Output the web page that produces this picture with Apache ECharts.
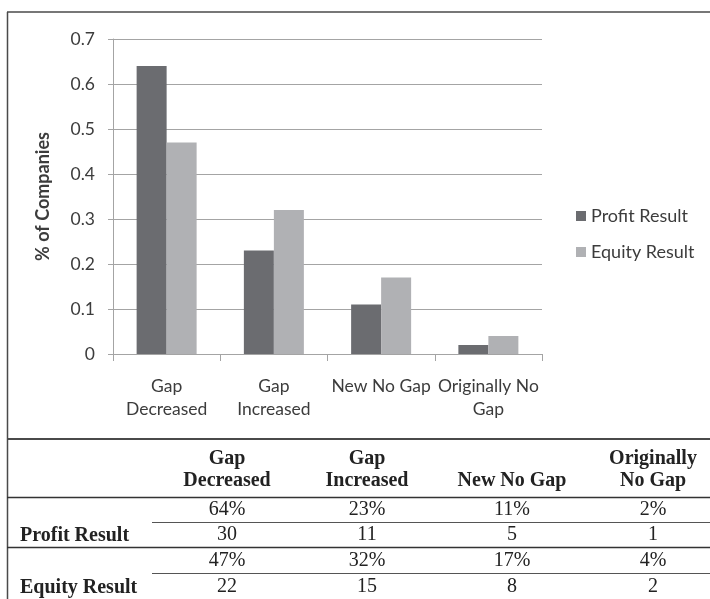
<!DOCTYPE html>
<html>
<head>
<meta charset="utf-8">
<script src="https://cdn.jsdelivr.net/npm/echarts@6/dist/echarts.min.js"></script>
<style>
  html, body { margin: 0; padding: 0; background: #fff; }
  #chart { width: 710px; height: 599px; }
</style>
</head>
<body>
<div id="chart"></div>
<script>
// Outcome categories (chart labels and table headers)
const categories = ['Gap\nDecreased', 'Gap\nIncreased', 'New No Gap', 'Originally No\nGap'];
const tableHeaders = ['Gap\nDecreased', 'Gap\nIncreased', 'New No Gap', 'Originally\nNo Gap'];
const seriesNames = ['Profit Result', 'Equity Result'];

// Share of companies per outcome
const profitShare = [0.64, 0.23, 0.11, 0.02];
const equityShare = [0.47, 0.32, 0.17, 0.04];

// Number of companies per outcome
const profitCounts = [30, 11, 5, 1];
const equityCounts = [22, 15, 8, 2];

// Y axis ticks
const yMin = 0, yMax = 0.7, yStep = 0.1;

const sans = 'Lato, "Open Sans", sans-serif';
const serif = '"Liberation Serif", "DejaVu Serif", serif';
const textGrey = '#3c3c3c';
const axisGrey = '#a4a4a4';
const darkBar = '#6b6c70';
const lightBar = '#b0b1b4';

const chart = echarts.init(document.getElementById('chart'), null, { renderer: 'canvas' });

// Table laid out under the chart
const colX = [227, 367, 512, 653];
const rowLabelX = 20;
const graphic = [];

// frame around the chart and table rules
const frame = '#4a4a4a';
graphic.push({ type: 'line', shape: { x1: 7, y1: 12, x2: 710, y2: 12 }, style: { stroke: '#777', lineWidth: 2 } });
graphic.push({ type: 'line', shape: { x1: 7.5, y1: 12, x2: 7.5, y2: 599 }, style: { stroke: frame, lineWidth: 1.5 } });
graphic.push({ type: 'line', shape: { x1: 7, y1: 439, x2: 710, y2: 439 }, style: { stroke: frame, lineWidth: 2 } });
graphic.push({ type: 'line', shape: { x1: 7, y1: 497.5, x2: 710, y2: 497.5 }, style: { stroke: '#333', lineWidth: 1.5 } });
graphic.push({ type: 'line', shape: { x1: 152, y1: 522.5, x2: 710, y2: 522.5 }, style: { stroke: '#555', lineWidth: 1 } });
graphic.push({ type: 'line', shape: { x1: 7, y1: 547.5, x2: 710, y2: 547.5 }, style: { stroke: '#333', lineWidth: 1.5 } });
graphic.push({ type: 'line', shape: { x1: 152, y1: 573.5, x2: 710, y2: 573.5 }, style: { stroke: '#555', lineWidth: 1 } });

// header row
tableHeaders.forEach((h, i) => {
  graphic.push({
    type: 'text', x: colX[i], y: 492,
    style: { text: h, font: 'bold 20px ' + serif, fill: '#222', align: 'center', verticalAlign: 'bottom', lineHeight: 22 }
  });
});

// body rows: percentage line then count line for each series
const rows = [
  { name: seriesNames[0], share: profitShare, counts: profitCounts, pctY: 510, cntY: 535 },
  { name: seriesNames[1], share: equityShare, counts: equityCounts, pctY: 561, cntY: 587 }
];
rows.forEach(r => {
  graphic.push({
    type: 'text', x: rowLabelX, y: r.cntY + 1,
    style: { text: r.name, font: 'bold 20px ' + serif, fill: '#222', align: 'left', verticalAlign: 'middle' }
  });
  r.share.forEach((v, i) => {
    graphic.push({
      type: 'text', x: colX[i], y: r.pctY,
      style: { text: Math.round(v * 100) + '%', font: '20px ' + serif, fill: '#222', align: 'center', verticalAlign: 'middle' }
    });
    graphic.push({
      type: 'text', x: colX[i], y: r.cntY,
      style: { text: String(r.counts[i]), font: '20px ' + serif, fill: '#222', align: 'center', verticalAlign: 'middle' }
    });
  });
});

chart.setOption({
  backgroundColor: '#fff',
  animation: false,
  grid: { left: 113, top: 39, right: 168, bottom: 245, containLabel: false },
  legend: {
    orient: 'vertical',
    left: 571, top: 201,
    itemWidth: 10, itemHeight: 10, itemGap: 16,
    icon: 'rect',
    textStyle: { fontFamily: sans, fontSize: 18, color: textGrey, lineHeight: 20 },
    data: seriesNames
  },
  xAxis: {
    type: 'category',
    data: categories,
    axisLine: { lineStyle: { color: axisGrey, width: 1 } },
    axisTick: { show: true, length: 7, lineStyle: { color: axisGrey } },
    axisLabel: { fontFamily: sans, fontSize: 17.5, color: textGrey, lineHeight: 23, margin: 21, interval: 0 }
  },
  yAxis: {
    type: 'value',
    min: yMin, max: yMax, interval: yStep,
    name: '% of Companies',
    nameLocation: 'middle',
    nameGap: 61,
    nameRotate: 90,
    nameTextStyle: { fontFamily: sans, fontSize: 18, fontWeight: 'bold', color: textGrey },
    axisLine: { show: true, lineStyle: { color: axisGrey, width: 1 } },
    axisTick: { show: true, length: 5, lineStyle: { color: axisGrey } },
    splitLine: { lineStyle: { color: axisGrey, width: 1 } },
    axisLabel: { fontFamily: sans, fontSize: 17.5, color: textGrey, margin: 18, formatter: v => String(Math.round(v * 10) / 10) }
  },
  series: [
    { name: seriesNames[0], type: 'bar', data: profitShare, barWidth: 30, barGap: '0%', itemStyle: { color: darkBar } },
    { name: seriesNames[1], type: 'bar', data: equityShare, barWidth: 30, barGap: '0%', itemStyle: { color: lightBar } }
  ],
  graphic: graphic
});
</script>
</body>
</html>
